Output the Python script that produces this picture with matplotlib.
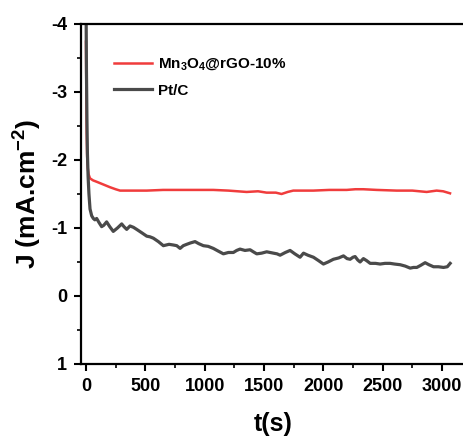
import matplotlib
matplotlib.use("Agg")
import matplotlib.pyplot as plt
from matplotlib.ticker import MultipleLocator

plt.rcParams['font.family'] = ['Liberation Sans', 'DejaVu Sans']
plt.rcParams['font.weight'] = 'bold'
plt.rcParams['mathtext.fontset'] = 'custom'
plt.rcParams['mathtext.bf'] = 'Liberation Sans:bold'
plt.rcParams['mathtext.rm'] = 'Liberation Sans:bold'
plt.rcParams['mathtext.default'] = 'bf'
plt.rcParams['axes.unicode_minus'] = False

# Mn3O4@rGO-10%
t_mn = [0, 3, 6, 10, 15, 22, 34, 60, 90, 118, 160, 202, 250, 287, 400, 512, 650, 792,
        930, 1073, 1200, 1354, 1450, 1522, 1600, 1648, 1700, 1747, 1830, 1916, 2050,
        2197, 2270, 2337, 2450, 2618, 2750, 2871, 2955, 3010, 3068]
j_mn = [-3.74, -3.0, -2.4, -2.05, -1.88, -1.79, -1.73, -1.70, -1.68, -1.66, -1.63, -1.60,
        -1.57, -1.55, -1.55, -1.55, -1.56, -1.56, -1.56, -1.56, -1.55, -1.53, -1.54,
        -1.52, -1.52, -1.50, -1.53, -1.55, -1.55, -1.55, -1.56, -1.56, -1.57, -1.57,
        -1.56, -1.55, -1.55, -1.53, -1.55, -1.54, -1.51]

# Pt/C
t_pt = [0, 4, 8, 12, 18, 25, 34, 48, 62, 75, 90, 110, 132, 150, 174, 200, 230, 265, 301,
        320, 343, 371, 400, 427, 470, 512, 540, 568, 610, 652, 700, 736, 765, 793, 820,
        849, 880, 919, 950, 989, 1030, 1073, 1115, 1158, 1200, 1242, 1270, 1298, 1340,
        1383, 1410, 1439, 1480, 1523, 1580, 1610, 1636, 1680, 1720, 1760, 1804, 1833,
        1870, 1917, 1960, 2001, 2040, 2085, 2130, 2170, 2200, 2226, 2250, 2268, 2290,
        2310, 2338, 2365, 2395, 2440, 2479, 2520, 2563, 2600, 2648, 2690, 2732, 2760,
        2788, 2820, 2858, 2890, 2929, 2970, 3013, 3045, 3069]
j_pt = [-4.5, -3.3, -2.6, -2.1, -1.75, -1.5, -1.28, -1.18, -1.14, -1.12, -1.14, -1.08,
        -1.02, -1.04, -1.09, -1.02, -0.95, -1.00, -1.06, -1.02, -0.98, -1.03, -1.01,
        -0.98, -0.93, -0.88, -0.87, -0.85, -0.80, -0.74, -0.76, -0.75, -0.74, -0.70,
        -0.74, -0.76, -0.78, -0.80, -0.77, -0.74, -0.73, -0.70, -0.66, -0.62, -0.64,
        -0.64, -0.67, -0.69, -0.67, -0.68, -0.65, -0.62, -0.63, -0.65, -0.63, -0.62,
        -0.60, -0.64, -0.67, -0.62, -0.57, -0.63, -0.60, -0.57, -0.52, -0.47, -0.50,
        -0.54, -0.56, -0.59, -0.55, -0.54, -0.57, -0.58, -0.53, -0.50, -0.55, -0.52,
        -0.48, -0.48, -0.47, -0.48, -0.48, -0.47, -0.46, -0.44, -0.41, -0.42, -0.42,
        -0.45, -0.49, -0.46, -0.43, -0.43, -0.42, -0.43, -0.48]

W, H = 464, 438
fig = plt.figure(figsize=(W / 100, H / 100), dpi=100)
left_px, right_px, top_px, bottom_px = 81, 465.7, 24, 364
ax = fig.add_axes([left_px / W, (H - bottom_px) / H,
                   (right_px - left_px) / W, (bottom_px - top_px) / H])

ax.plot(t_mn, j_mn, color='#f03c3c', lw=1.8, label=r'Mn$_3$O$_4$@rGO-10%')
ax.plot(t_pt, j_pt, color='#4a4a4a', lw=2.3, label='Pt/C')

ax.set_xlim(-42, 3200)
ax.set_ylim(1, -4)
ax.xaxis.set_major_locator(MultipleLocator(500))
ax.xaxis.set_minor_locator(MultipleLocator(250))
ax.yaxis.set_major_locator(MultipleLocator(1))
ax.yaxis.set_minor_locator(MultipleLocator(0.5))

for s in ['left', 'bottom', 'top']:
    ax.spines[s].set_linewidth(1.6)
ax.spines['right'].set_visible(False)
ax.tick_params(which='major', direction='out', length=5, width=1.5, labelsize=13, pad=5)
ax.tick_params(which='minor', direction='out', length=3, width=1.2)
ax.tick_params(top=False, right=False)
for lab in ax.get_xticklabels() + ax.get_yticklabels():
    lab.set_fontweight('bold')

ax.set_xlabel('t(s)', fontsize=18, fontweight='bold', labelpad=12)
ax.set_ylabel(r'J (mA.cm$^{-2}$)', fontsize=19, fontweight='bold', labelpad=5)

leg = ax.legend(loc='upper left', bbox_to_anchor=(0.05, 0.945), frameon=False,
                prop={'size': 11, 'weight': 'bold'}, handlelength=2.5,
                handletextpad=0.4, labelspacing=0.75)

fig.savefig('out.png', dpi=100)
